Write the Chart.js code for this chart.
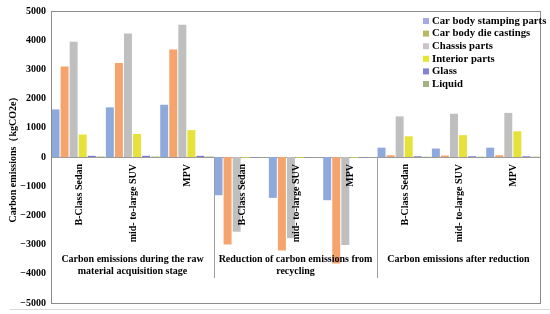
<!DOCTYPE html>
<html>
<head>
<meta charset="utf-8">
<script src="https://cdn.jsdelivr.net/npm/chart.js@4"></script>
<style>
  html, body { margin: 0; padding: 0; background: #fff; }
  #wrap { width: 550px; height: 314px; }
</style>
</head>
<body>
<div id="wrap"><canvas id="bar_chart" width="550" height="314"></canvas></div>
<script>
// categories (vehicle types repeated per stage)
const vehicles = ['B-Class Sedan', 'mid- to-large SUV', 'MPV'];
const categories = [...vehicles, ...vehicles, ...vehicles];
const stageNames = [
    ['Carbon emissions during the raw', 'material acquisition stage'],
    ['Reduction of carbon emissions from', 'recycling'],
    ['Carbon emissions after reduction']
];

// series values, kgCO2e
const stampingParts = [1630, 1700, 1790, -1310, -1400, -1480, 320, 290, 320];
const dieCastings   = [3100, 3220, 3680, -3000, -3200, -3650, 60, 50, 60];
const chassisParts  = [3950, 4230, 4530, -2560, -2780, -3010, 1390, 1480, 1510];
const interiorParts = [770, 790, 920, -20, -20, -20, 710, 750, 880];
const glass         = [40, 40, 40, -10, -10, -10, 25, 25, 25];
const liquid        = [15, 15, 15, -5, -5, -5, 10, 10, 10];

const seriesNames = ['Car body stamping parts', 'Car body die castings', 'Chassis parts', 'Interior parts', 'Glass', 'Liquid'];
const barColors    = ['#8eaadc', '#f4a46c', '#bfbfbf', '#e6e23a', '#7a7ad0', '#9cbb6a'];
const legendColors = ['#a8a8e6', '#b8b862', '#cbc2cb', '#e6e62e', '#8282d4', '#a2b282'];

const yTicks = { min: -5000, max: 5000, step: 1000 };

const serif = '"Liberation Serif", "Times New Roman", serif';

// draws frame, zero line, separators, rotated category labels, stage labels, legend
const decorations = {
    id: 'decorations',
    beforeDatasetsDraw(chart) {
        const { ctx, chartArea: a, scales: { y } } = chart;
        const zero = y.getPixelForValue(0);
        ctx.save();
        ctx.strokeStyle = '#9a9a9a';
        ctx.lineWidth = 1;
        ctx.beginPath();
        ctx.moveTo(a.left, Math.round(zero) + 0.5);
        ctx.lineTo(a.right, Math.round(zero) + 0.5);
        ctx.stroke();
        ctx.restore();
    },
    afterDraw(chart) {
        const { ctx, chartArea: a, scales: { x, y } } = chart;
        const zero = y.getPixelForValue(0);
        ctx.save();

        // frame
        ctx.strokeStyle = '#8c8c8c';
        ctx.lineWidth = 1;
        ctx.strokeRect(Math.round(a.left) + 0.5, Math.round(a.top) + 0.5,
            Math.round(a.right - a.left), Math.round(a.bottom - a.top));
        ctx.strokeStyle = '#d8d8d8';
        ctx.beginPath();
        ctx.moveTo(10, 309.5);
        ctx.lineTo(550, 309.5);
        ctx.stroke();

        // group separators
        ctx.strokeStyle = '#a0a0a0';
        [3, 6].forEach(function (i) {
            const xs = Math.round((x.getPixelForValue(i - 1) + x.getPixelForValue(i)) / 2) + 0.5;
            ctx.beginPath();
            ctx.moveTo(xs, zero);
            ctx.lineTo(xs, 278);
            ctx.stroke();
        });

        // rotated category labels
        ctx.fillStyle = '#000';
        ctx.font = 'bold 10px ' + serif;
        ctx.textAlign = 'right';
        ctx.textBaseline = 'middle';
        categories.forEach(function (label, i) {
            ctx.save();
            ctx.translate(x.getPixelForValue(i) + 1, zero + 7);
            ctx.rotate(-Math.PI / 2);
            ctx.fillText(label, 0, 0);
            ctx.restore();
        });

        // stage labels
        ctx.textAlign = 'center';
        ctx.textBaseline = 'middle';
        stageNames.forEach(function (lines, g) {
            const cx = (x.getPixelForValue(g * 3) + x.getPixelForValue(g * 3 + 2)) / 2;
            lines.forEach(function (t, k) {
                ctx.fillText(t, cx, 259 + k * 12);
            });
        });

        // legend
        ctx.textAlign = 'left';
        ctx.font = 'bold 10.7px ' + serif;
        seriesNames.forEach(function (name, i) {
            const ly = 21 + i * 12.6;
            ctx.fillStyle = legendColors[i];
            ctx.fillRect(423, ly - 3, 6, 6);
            ctx.fillStyle = '#000';
            ctx.fillText(name, 432, ly);
        });
        ctx.restore();
    }
};

const seriesData = [stampingParts, dieCastings, chassisParts, interiorParts, glass, liquid];

const ctx1 = document.getElementById('bar_chart').getContext('2d');
const chart1 = new Chart(ctx1, {
    type: 'bar',
    data: {
        labels: categories,
        datasets: seriesData.map(function (vals, i) {
            return {
                label: seriesNames[i],
                data: vals,
                backgroundColor: barColors[i],
                borderWidth: 0,
                categoryPercentage: 1,
                barPercentage: 0.88
            };
        })
    },
    options: {
        responsive: false,
        animation: false,
        layout: { padding: { top: 3, right: 10, bottom: 11, left: 0 } },
        plugins: {
            legend: { display: false },
            tooltip: { enabled: false }
        },
        scales: {
            x: { display: false },
            y: {
                min: yTicks.min,
                max: yTicks.max,
                grid: { display: false, drawTicks: false },
                border: { display: false },
                ticks: {
                    stepSize: yTicks.step,
                    padding: 5,
                    color: '#000',
                    font: { family: serif, size: 10, weight: 'bold' },
                    callback: function (v) { return v < 0 ? '\u2212' + Math.abs(v) : String(v); }
                },
                title: {
                    display: true,
                    text: 'Carbon emissions（kgCO2e）',
                    color: '#000',
                    font: { family: serif, size: 10, weight: 'bold' },
                    padding: { top: 7, bottom: 0 }
                },
                afterFit: function (scale) { scale.width = 51; }
            }
        }
    },
    plugins: [decorations]
});
</script>
</body>
</html>
